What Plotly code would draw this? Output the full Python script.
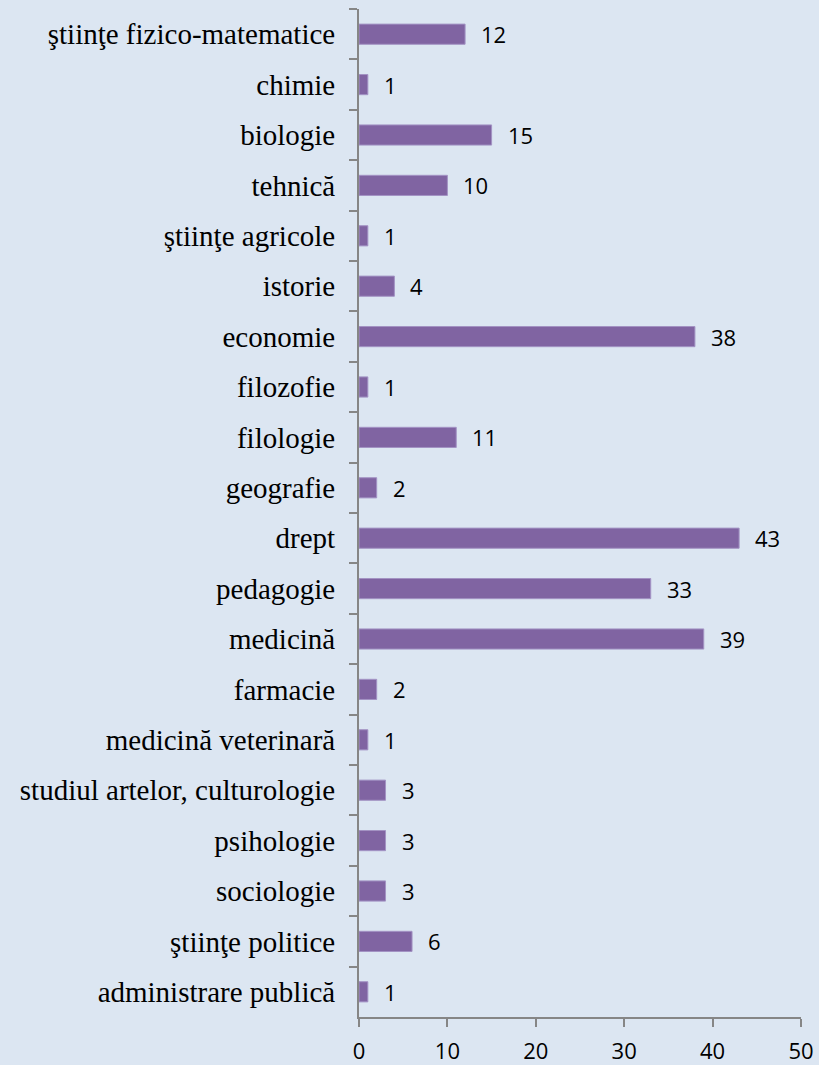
import plotly.graph_objects as go

categories = [
    "ştiinţe fizico-matematice", "chimie", "biologie", "tehnică", "ştiinţe agricole",
    "istorie", "economie", "filozofie", "filologie", "geografie", "drept",
    "pedagogie", "medicină", "farmacie", "medicină veterinară",
    "studiul artelor, culturologie", "psihologie", "sociologie",
    "ştiinţe politice", "administrare publică",
]
values = [12, 1, 15, 10, 1, 4, 38, 1, 11, 2, 43, 33, 39, 2, 1, 3, 3, 3, 6, 1]
x_ticks = [0, 10, 20, 30, 40, 50]

BG = "#dce6f2"
BAR = "#8064a2"
AXIS = "#868686"

fig = go.Figure()
fig.add_trace(go.Bar(
    y=categories, x=values, orientation="h",
    marker=dict(color=BAR, line=dict(color="#a393c4", width=1)),
    width=0.4, hoverinfo="skip",
))

for c, v in zip(categories, values):
    fig.add_annotation(
        x=v, y=c, text=str(v), showarrow=False, xanchor="left", yanchor="middle",
        xshift=14, font=dict(family="Open Sans", size=22, color="#000000"),
    )

fig.update_layout(
    width=819, height=1065,
    margin=dict(l=358.5, r=18, t=9, b=48, autoexpand=False),
    paper_bgcolor=BG, plot_bgcolor=BG,
    showlegend=False,
    xaxis=dict(
        range=[0, 50], tickvals=x_ticks, ticktext=[str(t) for t in x_ticks],
        automargin=False,
        showgrid=False, zeroline=False, showline=True, linecolor=AXIS, linewidth=2,
        ticks="outside", ticklen=8, tickwidth=2, tickcolor=AXIS,
        tickfont=dict(family="Open Sans", size=22, color="#000000"),
        ticklabelstandoff=6,
        fixedrange=True,
    ),
    yaxis=dict(
        categoryorder="array", categoryarray=categories, autorange="reversed",
        automargin=False,
        showgrid=False, zeroline=False, showline=True, linecolor=AXIS, linewidth=2,
        ticks="outside", ticklen=8, tickwidth=2, tickcolor=AXIS,
        tickson="boundaries",
        tickfont=dict(family="Liberation Serif", size=29, color="#000000"),
        ticklabelstandoff=16,
        fixedrange=True,
    ),
)

fig.write_html(
    "out.html",
    config={"displayModeBar": False},
    post_script="document.body.style.margin='0px';document.body.style.background='%s';" % BG,
)
